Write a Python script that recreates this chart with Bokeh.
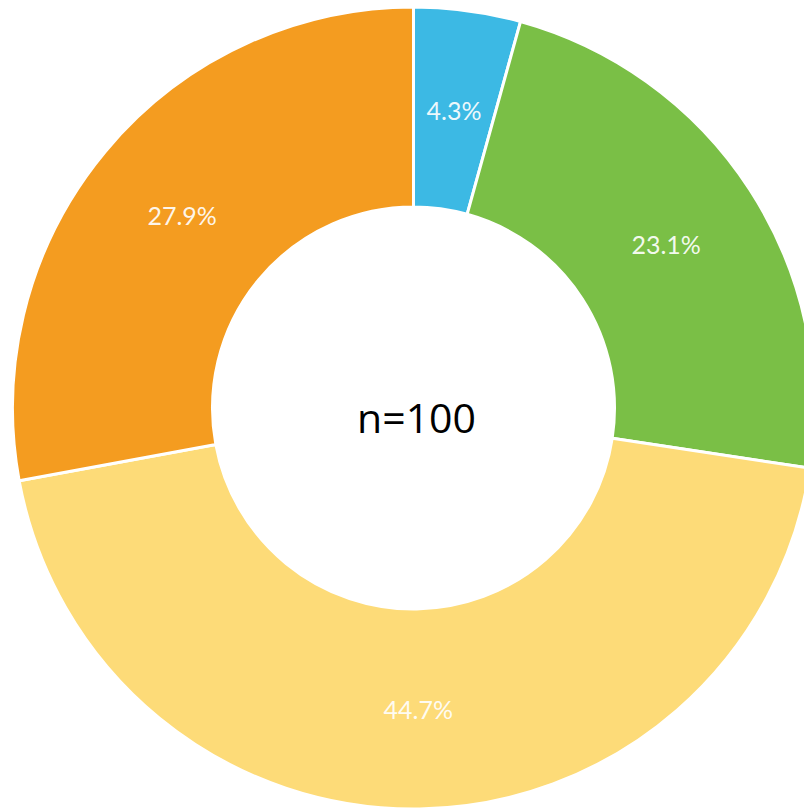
import math
from bokeh.plotting import figure
from bokeh.models import Range1d, ColumnDataSource
from bokeh.core.properties import value
from bokeh.embed import file_html
from bokeh.resources import INLINE

categories = ["A", "B", "C", "D"]
shares = [4.3, 23.1, 44.7, 27.9]
colors = ["#3CB9E4", "#7ABF46", "#FDDB78", "#F49C20"]
center_label = "n=100"

W, H = 804, 810
cx, cy = 413, 402.5
r_in, r_out = 201, 401

total = sum(shares)
starts, ends, lx, ly, labels = [], [], [], [], []
acc = 0.0
for s in shares:
    a0 = math.pi / 2 - 2 * math.pi * acc / total
    a1 = math.pi / 2 - 2 * math.pi * (acc + s) / total
    starts.append(a0)
    ends.append(a1)
    mid = (a0 + a1) / 2
    rm = (r_in + r_out) / 2
    lx.append(cx + rm * math.cos(mid))
    ly.append(cy + rm * math.sin(mid))
    labels.append(f"{s:.1f}%")
    acc += s

src = ColumnDataSource(dict(cat=categories, start=starts, end=ends, color=colors,
                            lx=lx, ly=ly, label=labels))

p = figure(width=W, height=H, output_backend="svg", toolbar_location=None,
           x_range=Range1d(0, W), y_range=Range1d(0, H), min_border=0)
p.axis.visible = False
p.grid.visible = False
p.outline_line_color = None
p.background_fill_color = "white"
p.border_fill_color = "white"

p.annular_wedge(x=cx, y=cy, inner_radius=r_in, outer_radius=r_out,
                start_angle="end", end_angle="start", direction="anticlock",
                fill_color="color", line_color="white", line_width=3, source=src)

p.text(x="lx", y="ly", text="label", source=src, text_color="white", text_alpha=0.92,
       text_font=value("Lato"), text_font_size="25px",
       text_align="center", text_baseline="middle")

p.text(x=[cx + 3], y=[cy - 9], text=[center_label], text_color="black",
       text_font=value("Open Sans"), text_font_size="41px",
       text_align="center", text_baseline="middle")

open("out.html", "w").write(file_html(p, INLINE))
